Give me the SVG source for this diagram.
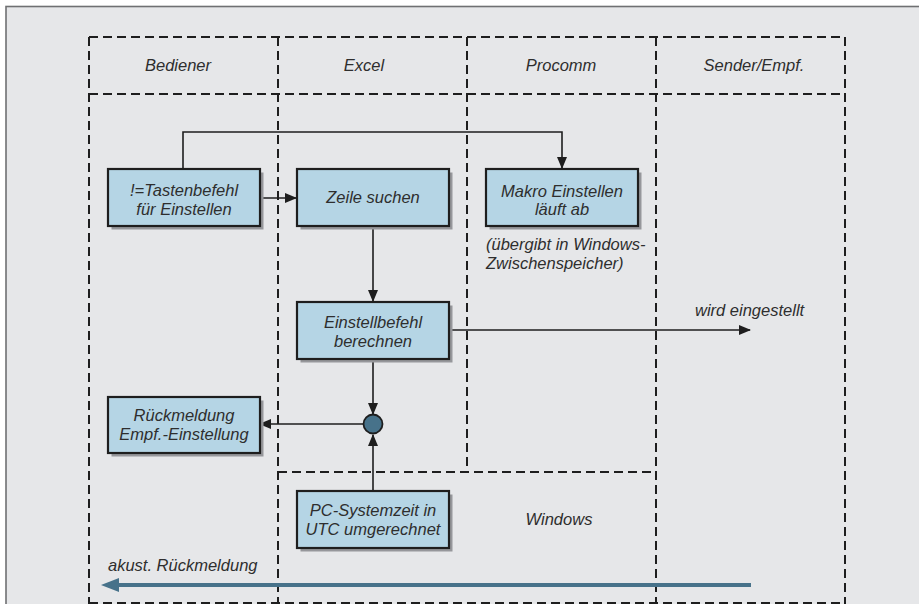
<svg xmlns="http://www.w3.org/2000/svg" width="919" height="604" viewBox="0 0 919 604">
<defs>
<style>
.t{font-family:"Liberation Sans",Arial,sans-serif;font-style:italic;font-size:16.5px;fill:#2e2e2e}
.c{text-anchor:middle}
.lane{fill:none;stroke:#1e1e1e;stroke-width:2;stroke-dasharray:9 5}
.box{fill:#b5d5e5;stroke:#1e1e1e;stroke-width:2.2}
.sh{fill:#96979b}
.ln{fill:none;stroke:#1e1e1e;stroke-width:1.6}
</style>
<marker id="ah" markerWidth="12" markerHeight="10" refX="11" refY="5" orient="auto" markerUnits="userSpaceOnUse">
<path d="M0,0 L12,5 L0,10 Z" fill="#1e1e1e"/>
</marker>
</defs>
<rect x="0" y="0" width="919" height="604" fill="#ffffff"/>
<rect x="6" y="6.5" width="920" height="610" fill="#e6e7e9" stroke="#6f7072" stroke-width="1.6"/>
<g id="lanes">
<line class="lane" x1="89" y1="37" x2="845" y2="37"/>
<line class="lane" x1="89" y1="94" x2="845" y2="94"/>
<line class="lane" x1="89" y1="37" x2="89" y2="604"/>
<line class="lane" x1="845" y1="37" x2="845" y2="604"/>
<line class="lane" x1="278" y1="37" x2="278" y2="604"/>
<line class="lane" x1="467" y1="37" x2="467" y2="471"/>
<line class="lane" x1="656" y1="37" x2="656" y2="604"/>
<line class="lane" x1="278" y1="472" x2="656" y2="472"/>
<line class="lane" x1="89" y1="603" x2="845" y2="603"/>
<text class="t c" x="178" y="71">Bediener</text>
<text class="t c" x="364" y="71">Excel</text>
<text class="t c" x="561" y="71">Procomm</text>
<text class="t c" x="754" y="71">Sender/Empf.</text>
<text class="t c" x="559" y="525">Windows</text>
</g>
<g id="connectors">
<polyline class="ln" points="183,169 183,132 562,132 562,168" marker-end="url(#ah)"/>
<line class="ln" x1="259" y1="198" x2="296" y2="198" marker-end="url(#ah)"/>
<line class="ln" x1="373" y1="226" x2="373" y2="301" marker-end="url(#ah)"/>
<line class="ln" x1="373" y1="358" x2="373" y2="414" marker-end="url(#ah)"/>
<line class="ln" x1="373" y1="491" x2="373" y2="435" marker-end="url(#ah)"/>
<line class="ln" x1="363" y1="424" x2="260" y2="424" marker-end="url(#ah)"/>
<line class="ln" x1="448" y1="330" x2="750" y2="330" marker-end="url(#ah)"/>
<text class="t" x="695" y="316">wird eingestellt</text>
<line x1="751" y1="585" x2="115" y2="585" stroke="#47728a" stroke-width="4"/>
<polygon points="101,585 119,578 119,592" fill="#47728a"/>
<text class="t" x="108" y="571">akust. Rückmeldung</text>
</g>
<g id="n1">
<rect class="sh" x="111.5" y="172.5" width="152" height="57"/>
<rect class="box" x="108" y="169" width="152" height="57"/>
<text class="t c" x="184" y="196">!=Tastenbefehl</text>
<text class="t c" x="184" y="215">für Einstellen</text>
</g>
<g id="n2">
<rect class="sh" x="300.5" y="172.5" width="152" height="57"/>
<rect class="box" x="297" y="169" width="152" height="57"/>
<text class="t c" x="373" y="203">Zeile suchen</text>
</g>
<g id="n3">
<rect class="sh" x="489.5" y="172.5" width="152" height="57"/>
<rect class="box" x="486" y="169" width="152" height="57"/>
<text class="t c" x="562" y="197">Makro Einstellen</text>
<text class="t c" x="562" y="215">läuft ab</text>
<text class="t" x="486" y="250">(übergibt in Windows-</text>
<text class="t" x="486" y="269">Zwischenspeicher)</text>
</g>
<g id="n4">
<rect class="sh" x="300.5" y="305.5" width="152" height="57"/>
<rect class="box" x="297" y="302" width="152" height="57"/>
<text class="t c" x="373" y="328">Einstellbefehl</text>
<text class="t c" x="373" y="347">berechnen</text>
</g>
<g id="n5">
<rect class="sh" x="111.5" y="400.5" width="152" height="56"/>
<rect class="box" x="108" y="397" width="152" height="56"/>
<text class="t c" x="184" y="421">Rückmeldung</text>
<text class="t c" x="184" y="440">Empf.-Einstellung</text>
</g>
<g id="n6">
<rect class="sh" x="300.5" y="494.5" width="152" height="57"/>
<rect class="box" x="297" y="491" width="152" height="57"/>
<text class="t c" x="373" y="516">PC-Systemzeit in</text>
<text class="t c" x="373" y="535">UTC umgerechnet</text>
</g>
<g id="join">
<circle cx="373" cy="424" r="9.5" fill="#47728a" stroke="#1e1e1e" stroke-width="1.8"/>
</g>
</svg>
